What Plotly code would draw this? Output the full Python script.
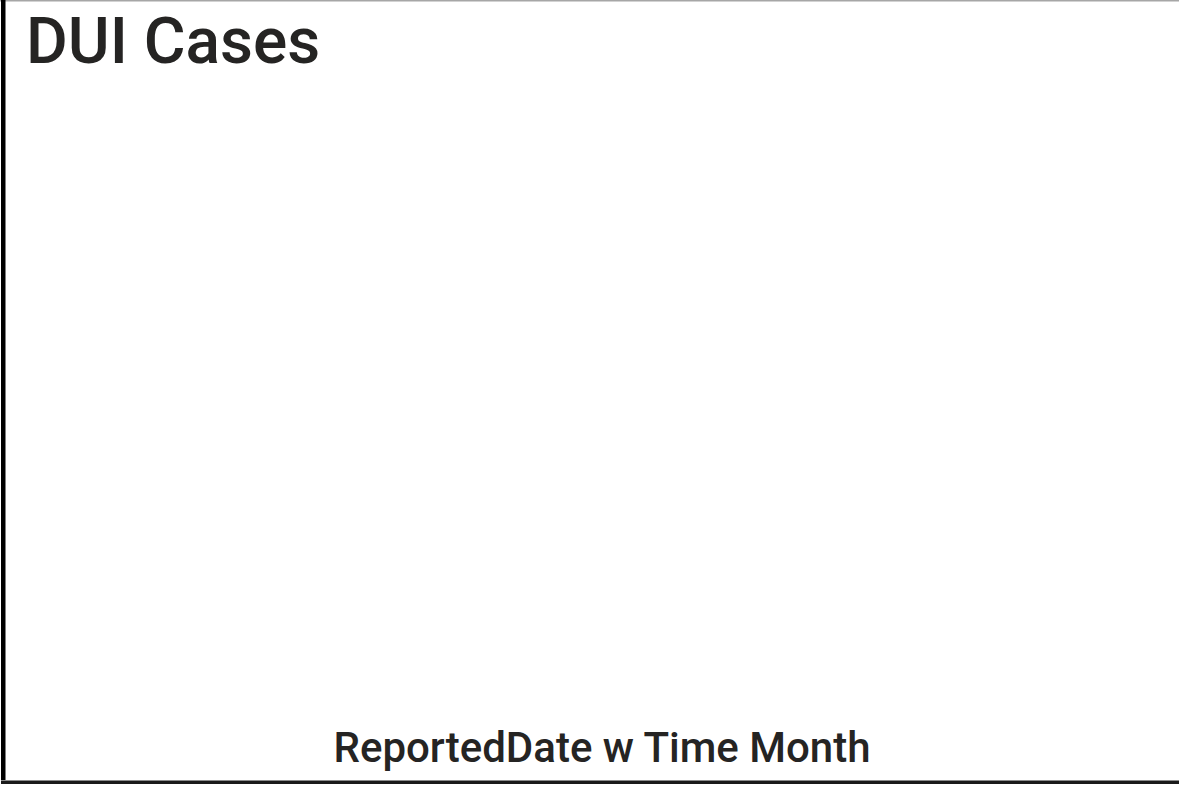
import plotly.graph_objects as go

# Data (the reference chart is empty: no data points shown)
months = []
dui_cases = []

title_text = "DUI Cases"
x_title = "ReportedDate w Time Month"

W, H = 1179, 790
L, R, T, B = 30, 5, 100, 58
PW, PH = W - L - R, H - T - B

def px_x(px):
    return (px - L) / PW

def px_y(py):
    return (H - B - py) / PH

fig = go.Figure()
fig.add_trace(go.Scatter(x=months, y=dui_cases, mode="lines", line=dict(color="#118DFF")))

shapes = [
    # top thin gray line
    dict(type="rect", xref="paper", yref="paper", x0=px_x(0), x1=px_x(W), y0=px_y(0), y1=px_y(1.5),
         fillcolor="#a6a6a6", line=dict(width=0)),
    # left black bar
    dict(type="rect", xref="paper", yref="paper", x0=px_x(1), x1=px_x(5.5), y0=px_y(0), y1=px_y(784),
         fillcolor="#000000", line=dict(width=0)),
    # bottom gray line
    dict(type="rect", xref="paper", yref="paper", x0=px_x(1), x1=px_x(W), y0=px_y(780), y1=px_y(781),
         fillcolor="#8c8c8c", line=dict(width=0)),
    # bottom black line
    dict(type="rect", xref="paper", yref="paper", x0=px_x(1), x1=px_x(W), y0=px_y(781), y1=px_y(784),
         fillcolor="#1a1a1a", line=dict(width=0)),
]

fig.update_layout(
    width=W, height=H,
    margin=dict(l=L, r=R, t=T, b=B),
    paper_bgcolor="white", plot_bgcolor="white",
    showlegend=False,
    title=dict(text=title_text, x=26 / W, xanchor="left", xref="container",
               y=1 - 18 / H, yanchor="top", yref="container",
               font=dict(family="Roboto", size=64, weight=500, color="#252423")),
    xaxis=dict(visible=True, showticklabels=False, showgrid=False, zeroline=False, showline=False,
               ticks="", title=dict(text=x_title,
                                    font=dict(family="Roboto", size=42, weight=500, color="#252423"),
                                    standoff=0)),
    yaxis=dict(visible=False, showgrid=False, zeroline=False),
    shapes=shapes,
)

fig.write_html("out.html", config={"displayModeBar": False},
               post_script="document.body.style.margin='0';document.body.style.overflow='hidden';")
